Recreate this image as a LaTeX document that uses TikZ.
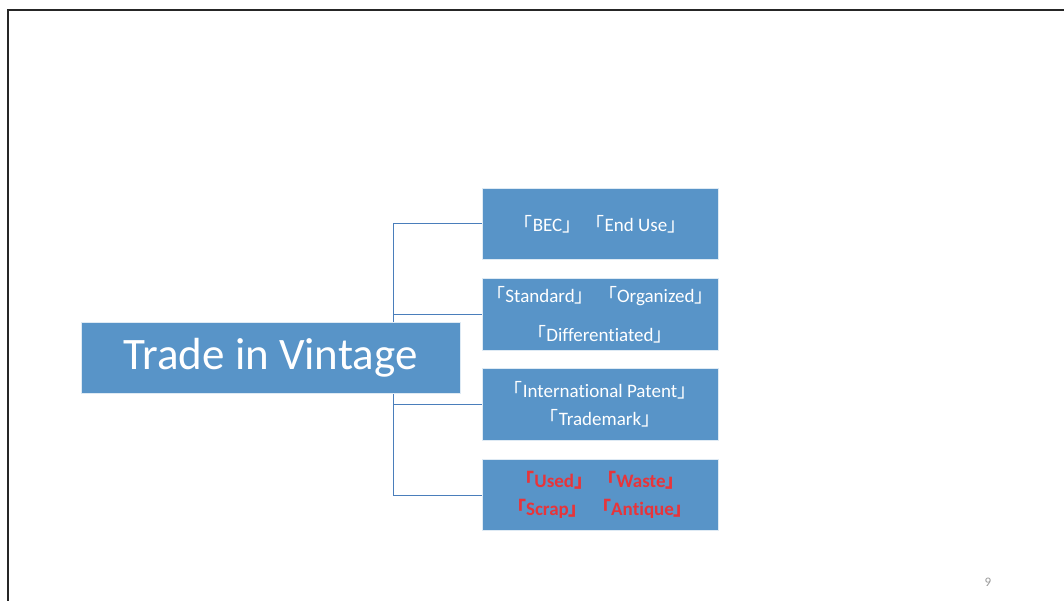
\documentclass[tikz,border=0pt]{standalone}
\usepackage{fontspec}
\setmainfont{Carlito}[Ligatures={NoCommon,NoContextual}]
\newfontfamily\cjk{Noto Sans CJK JP}
\usetikzlibrary{backgrounds}
\definecolor{boxblue}{HTML}{5894C8}
\definecolor{linkblue}{HTML}{4A7EBB}
\definecolor{alertred}{HTML}{E8343A}
\newcommand{\kl}{{\cjk 「}}
\newcommand{\kr}{{\cjk 」}}
\begin{document}
\begin{tikzpicture}[x=1pt,y=-1pt,
  box/.style={fill=boxblue, draw=white!80!boxblue, line width=0.6pt, text=white, align=center, inner sep=0pt},
  leaf/.style={box, minimum width=236pt, minimum height=71.5pt, font=\fontsize{19}{28}\selectfont},
  link/.style={draw=linkblue, line width=1pt}]
\useasboundingbox (0,0) rectangle (1064,601);
\draw[line width=1.5pt, black!85] (8,601) -- (8,10) -- (1064,10);
\node[box, minimum width=379pt, minimum height=71pt, font=\fontsize{45}{52}\selectfont] (root) at (270.5,357.5) {Trade in Vintage};
\node[leaf] (b1) at (600,224) {\kl BEC\kr\ \kl End Use\kr};
\node[leaf, font=\fontsize{19}{39}\selectfont] (b2) at (600,314.5) {\kl Standard\kr\ \kl Organized\kr\\ \kl Differentiated\kr};
\node[leaf] (b3) at (600,404.5) {\kl International Patent\kr\\ \kl Trademark\kr};
\node[leaf, text=alertred, font=\fontsize{19}{28}\selectfont\bfseries] (b4) at (600,495) {\kl Used\kr\ \kl Waste\kr\\ \kl Scrap\kr\ \kl Antique\kr};
\coordinate (trunk) at (393,357.5);
\begin{scope}[on background layer]
\draw[link] (trunk) |- (b1.west);
\draw[link] (trunk) |- (b2.west);
\draw[link] (trunk) |- (b3.west);
\draw[link] (trunk) |- (b4.west);
\end{scope}
\node[text=black!40, font=\fontsize{13}{15}\selectfont] (page) at (988,582) {9};
\end{tikzpicture}
\end{document}
